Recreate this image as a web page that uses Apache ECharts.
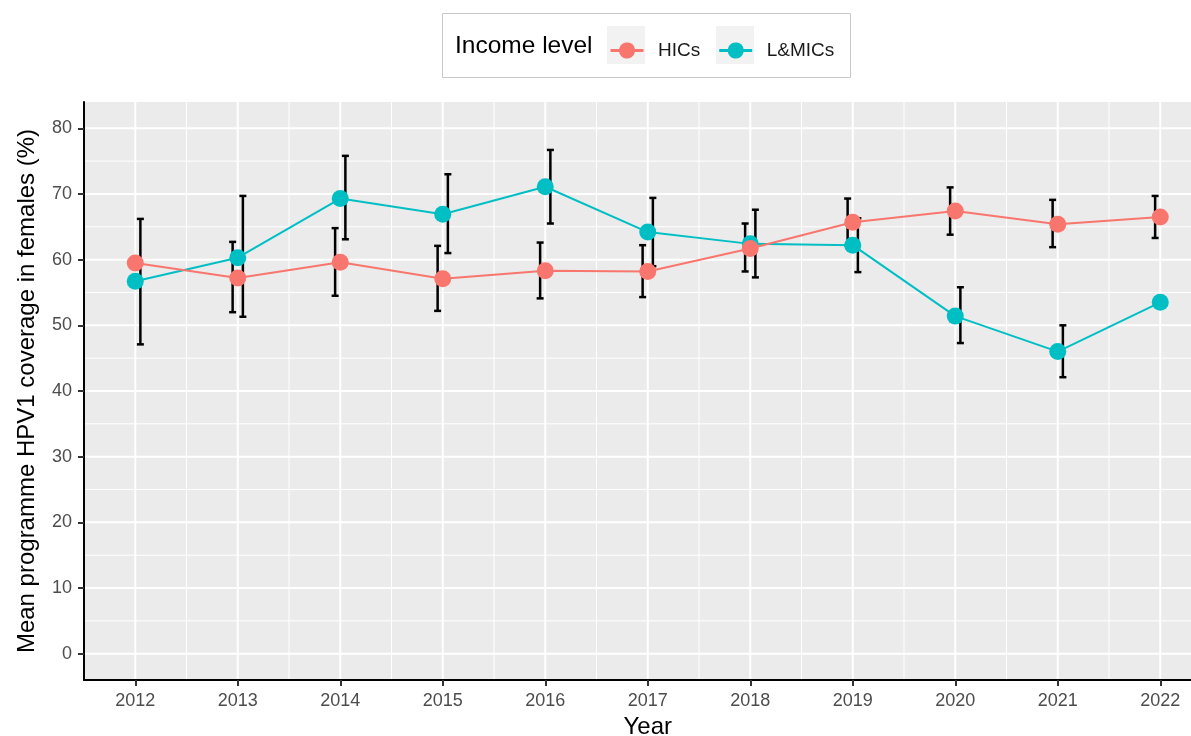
<!DOCTYPE html>
<html>
<head>
<meta charset="utf-8">
<title>HPV1 coverage by income level</title>
<script src="https://cdn.jsdelivr.net/npm/echarts@6/dist/echarts.min.js"></script>
<style>
  html, body { margin: 0; padding: 0; background: #fff; }
  #chart { width: 1191px; height: 736px; }
</style>
</head>
<body>
<div id="chart"></div>
<script>
// data
var years = [2012, 2013, 2014, 2015, 2016, 2017, 2018, 2019, 2020, 2021, 2022];

var hicMean = [59.5, 57.2, 59.6, 57.1, 58.3, 58.2, 61.7, 65.7, 67.4, 65.4, 66.5];
var hicLow  = [null, 52.0, 54.5, 52.2, 54.1, 54.3, 58.2, 62.2, 63.8, 61.9, 63.3];
var hicHigh = [null, 62.7, 64.8, 62.1, 62.6, 62.2, 65.5, 69.3, 71.0, 69.1, 69.7];

var lmicMean = [56.7, 60.3, 69.3, 66.9, 71.1, 64.2, 62.4, 62.2, 51.4, 46.0, 53.5];
var lmicLow  = [47.1, 51.3, 63.1, 61.0, 65.5, 59.0, 57.3, 58.1, 47.3, 42.1, null];
var lmicHigh = [66.2, 69.7, 75.8, 73.0, 76.7, 69.4, 67.6, 66.3, 55.8, 50.0, null];

var yTicks = [0, 10, 20, 30, 40, 50, 60, 70, 80];
var yMinor = [5, 15, 25, 35, 45, 55, 65, 75];
var xMinor = [2011.5, 2012.5, 2013.5, 2014.5, 2015.5, 2016.5, 2017.5, 2018.5, 2019.5, 2020.5, 2021.5, 2022.5];

var FONT = '"Liberation Sans", Arial, Helvetica, sans-serif';
var HIC_COL = '#F8766D';
var LMIC_COL = '#00BFC4';

function pairs(xs, ys) {
  return xs.map(function (x, i) { return [x, ys[i]]; });
}

function bars(xs, lo, hi) {
  var out = [];
  xs.forEach(function (x, i) {
    if (lo[i] != null && hi[i] != null) out.push([x, lo[i], hi[i]]);
  });
  return out;
}

// ggplot-like panel grid: [direction, value, width]
var gridData = [];
years.forEach(function (v) { gridData.push([0, v, 2]); });
xMinor.forEach(function (v) { gridData.push([0, v, 1]); });
yTicks.forEach(function (v) { gridData.push([1, v, 2]); });
yMinor.forEach(function (v) { gridData.push([1, v, 1]); });

function renderGrid(params, api) {
  var cs = params.coordSys;
  var dir = api.value(0), v = api.value(1), w = api.value(2);
  var shape;
  if (dir === 0) {
    var px = api.coord([v, 0])[0];
    shape = { x1: px, y1: cs.y, x2: px, y2: cs.y + cs.height };
  } else {
    var py = api.coord([2017, v])[1];
    shape = { x1: cs.x, y1: py, x2: cs.x + cs.width, y2: py };
  }
  return { type: 'line', shape: shape, style: { stroke: '#fff', lineWidth: w } };
}

function errorBars(dodge) {
  return function (params, api) {
    var x = api.value(0) + dodge;
    var lo = api.coord([x, api.value(1)]);
    var hi = api.coord([x, api.value(2)]);
    var cap = 3.5;
    var st = { stroke: '#000', lineWidth: 2.5 };
    return {
      type: 'group',
      children: [
        { type: 'line', shape: { x1: lo[0], y1: lo[1], x2: hi[0], y2: hi[1] }, style: st },
        { type: 'line', shape: { x1: lo[0] - cap, y1: lo[1], x2: lo[0] + cap, y2: lo[1] }, style: st },
        { type: 'line', shape: { x1: hi[0] - cap, y1: hi[1], x2: hi[0] + cap, y2: hi[1] }, style: st }
      ]
    };
  };
}

var keyIcon = 'path://M0,7H8.63A8,8 0 0,1 24.37,7H33V10H24.37A8,8 0 0,1 8.63,10H0Z';

var chart = echarts.init(document.getElementById('chart'));

var option = {
  animation: false,
  textStyle: { fontFamily: FONT },
  grid: {
    left: 84, top: 102, bottom: 56, right: -20.5,
    outerBoundsMode: 'none',
    containLabel: false,
    show: true, backgroundColor: '#EBEBEB', borderWidth: 0
  },
  graphic: [
    { type: 'rect', shape: { x: 442.5, y: 13.5, width: 408, height: 64 },
      style: { fill: '#fff', stroke: '#C8C8C8', lineWidth: 1 }, z: 0 },
    { type: 'rect', shape: { x: 607, y: 26, width: 38, height: 38 }, style: { fill: '#F2F2F2' }, z: 1 },
    { type: 'rect', shape: { x: 716, y: 26, width: 38, height: 38 }, style: { fill: '#F2F2F2' }, z: 1 },
    { type: 'text', x: 455, y: 46, z: 2,
      style: { text: 'Income level', fontSize: 24.5, fontFamily: FONT, fill: '#000', verticalAlign: 'middle' } }
  ],
  legend: {
    data: ['HICs', 'L&MICs'],
    left: 605.5, top: 36,
    icon: keyIcon,
    itemWidth: 33, itemHeight: 17,
    itemGap: 19,
    textStyle: { fontSize: 19, color: '#1a1a1a', fontFamily: FONT, padding: [0, 0, 0, 9.5] },
    selectedMode: false
  },
  xAxis: {
    type: 'value',
    min: 2011.5, max: 2022.5,
    z: 10,
    name: 'Year', nameLocation: 'middle', nameGap: 34,
    nameTextStyle: { fontSize: 24, color: '#000', fontFamily: FONT },
    axisLine: { show: true, onZero: false, lineStyle: { color: '#000', width: 2 } },
    axisTick: { show: true, length: 6, lineStyle: { color: '#333', width: 2 }, customValues: years },
    axisLabel: { fontSize: 18, color: '#4D4D4D', margin: 12, customValues: years,
      formatter: function (v) { return String(v); } },
    splitLine: { show: false }
  },
  yAxis: {
    type: 'value',
    min: -4, max: 84,
    z: 10,
    name: 'Mean programme HPV1 coverage in females (%)',
    nameLocation: 'middle', nameGap: 45,
    nameTextStyle: { fontSize: 24, color: '#000', fontFamily: FONT },
    axisLine: { show: true, onZero: false, lineStyle: { color: '#000', width: 2 } },
    axisTick: { show: true, length: 6, lineStyle: { color: '#333', width: 2 }, customValues: yTicks },
    axisLabel: { fontSize: 18, color: '#4D4D4D', margin: 12, customValues: yTicks },
    splitLine: { show: false }
  },
  series: [
    {
      type: 'custom', name: 'grid', silent: true, z: 1,
      renderItem: renderGrid,
      dimensions: ['dir', 'v', 'w'],
      encode: { x: 1, y: 1 },
      data: gridData
    },
    {
      type: 'custom', name: 'HIC error', silent: true, z: 2,
      renderItem: errorBars(-0.05),
      data: bars(years, hicLow, hicHigh)
    },
    {
      type: 'custom', name: 'L&MIC error', silent: true, z: 2,
      renderItem: errorBars(0.05),
      data: bars(years, lmicLow, lmicHigh)
    },
    {
      type: 'line', name: 'L&MICs', z: 3,
      data: pairs(years, lmicMean),
      symbol: 'circle', symbolSize: 17,
      itemStyle: { color: LMIC_COL },
      lineStyle: { color: LMIC_COL, width: 2 }
    },
    {
      type: 'line', name: 'HICs', z: 4,
      data: pairs(years, hicMean),
      symbol: 'circle', symbolSize: 17,
      itemStyle: { color: HIC_COL },
      lineStyle: { color: HIC_COL, width: 2 }
    }
  ]
};

chart.setOption(option);
</script>
</body>
</html>
